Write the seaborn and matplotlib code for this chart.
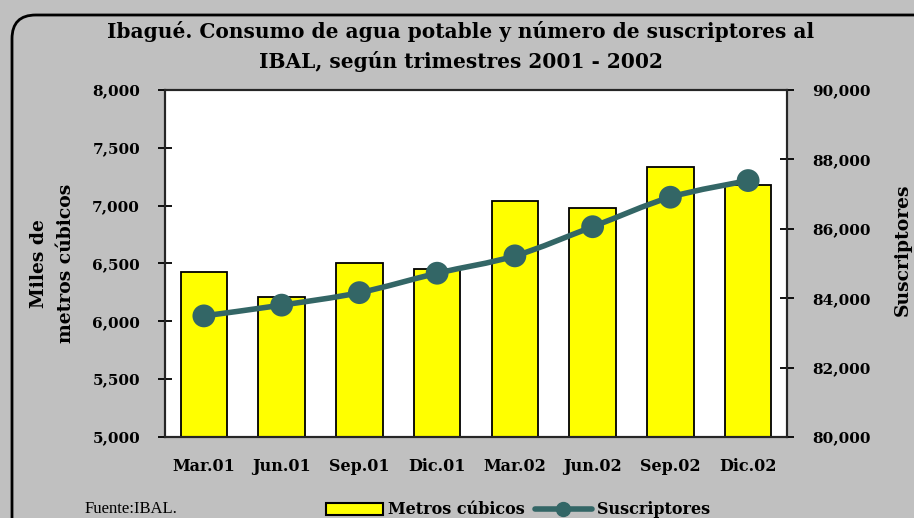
import matplotlib
matplotlib.use("Agg")
import matplotlib.pyplot as plt
import seaborn as sns
import pandas as pd
import numpy as np
from matplotlib.path import Path
from matplotlib.patches import PathPatch, FancyBboxPatch, Patch
from matplotlib.lines import Line2D

# Quarterly data
trimestres = ["Mar.01", "Jun.01", "Sep.01", "Dic.01", "Mar.02", "Jun.02", "Sep.02", "Dic.02"]
metros_cubicos = [6425, 6210, 6505, 6455, 7040, 6980, 7335, 7180]          # miles de m3
suscriptores = [83490, 83800, 84160, 84720, 85220, 86060, 86910, 87390]

left_ticks = [5000, 5500, 6000, 6500, 7000, 7500, 8000]
right_ticks = [80000, 82000, 84000, 86000, 88000, 90000]

BG = "#C0C0C0"
YELLOW = "#FFFF00"
TEAL = "#336666"
SERIF = "DejaVu Serif"

sns.set_style("white")
plt.rcParams["font.family"] = [SERIF]
plt.rcParams["text.color"] = "black"
plt.rcParams["axes.labelcolor"] = "black"
plt.rcParams["xtick.color"] = "black"
plt.rcParams["ytick.color"] = "black"

fig = plt.figure(figsize=(9.14, 5.18), dpi=100)
fig.patch.set_facecolor(BG)

# Rounded chart-area frame (runs past the right and bottom edges)
x0, ytop = 12 / 914, 1 - 15 / 518
frame = FancyBboxPatch((x0, -0.3), 1.3, ytop + 0.3,
                       boxstyle="round,pad=0,rounding_size=0.026",
                       transform=fig.transFigure, facecolor="none",
                       edgecolor="black", linewidth=2.0, zorder=0,
                       mutation_aspect=914 / 518)
fig.patches.append(frame)

ax = fig.add_axes([165 / 914, 1 - 437 / 518, (787 - 165) / 914, (437 - 90) / 518])
ax.set_facecolor("white")

df = pd.DataFrame({"trimestre": trimestres, "m3": metros_cubicos, "susc": suscriptores})

sns.barplot(data=df, x="trimestre", y="m3", color=YELLOW, saturation=1,
            edgecolor="black", linewidth=1.3, width=0.6, ax=ax, zorder=2)
ax.set_ylim(5000, 8000)
ax.set_xlim(-0.5, len(trimestres) - 0.5)
ax.set_yticks(left_ticks)
ax.set_yticklabels([f"{v:,}" for v in left_ticks], fontsize=11, fontweight="bold")
ax.set_xticks(np.arange(len(trimestres)))
ax.set_xticklabels(trimestres, fontsize=11.5, fontweight="bold")
ax.tick_params(axis="x", length=0, pad=15)
# category boundary ticks on the x axis
ax.set_xticks(np.arange(len(trimestres) + 1) - 0.5, minor=True)
ax.tick_params(axis="x", which="minor", direction="out", length=6, width=1.3)
ax.tick_params(axis="y", direction="inout", length=10, width=1.3, pad=13)
ax.set_xlabel("")
ax.set_ylabel("Miles de\nmetros cúbicos", fontsize=13.5, fontweight="bold", labelpad=12,
              linespacing=1.65)
for s in ax.spines.values():
    s.set_visible(True)
    s.set_color("black")
    s.set_linewidth(1.5)

ax2 = ax.twinx()
ax2.set_ylim(80000, 90000)
ax2.set_yticks(right_ticks)
ax2.set_yticklabels([f"{v:,}" for v in right_ticks], fontsize=11, fontweight="bold")
ax2.tick_params(axis="y", direction="inout", length=10, width=1.3, pad=13)
ax2.set_ylabel("")
for s in ax2.spines.values():
    s.set_linewidth(1.5)

# Smoothed subscriber line (Catmull-Rom through the quarterly points)
xs = np.arange(len(suscriptores), dtype=float)
ys = np.array(suscriptores, dtype=float)
pts = np.column_stack([xs, ys])
verts = [tuple(pts[0])]
codes = [Path.MOVETO]
n = len(pts)
for i in range(n - 1):
    p0 = pts[i - 1] if i > 0 else pts[i]
    p1 = pts[i]
    p2 = pts[i + 1]
    p3 = pts[i + 2] if i + 2 < n else pts[i + 1]
    c1 = p1 + (p2 - p0) / 6.0
    c2 = p2 - (p3 - p1) / 6.0
    verts += [tuple(c1), tuple(c2), tuple(p2)]
    codes += [Path.CURVE4] * 3
ax2.add_patch(PathPatch(Path(verts, codes), facecolor="none", edgecolor=TEAL,
                        linewidth=4, zorder=3, capstyle="round"))
sns.scatterplot(data=df, x=np.arange(len(trimestres)), y="susc", ax=ax2, color=TEAL,
                s=270, edgecolor="none", zorder=4, legend=False)
ax2.set_xlim(-0.5, len(trimestres) - 0.5)
ax2.set_xlabel("")
ax2.set_ylabel("")

# Right axis title, hugging the right edge
fig.text(903 / 914, 1 - 250 / 518, "Suscriptores", rotation=90, ha="center", va="center",
         fontsize=13.5, fontweight="bold")

# Title
fig.text(461 / 914, 1 - 31 / 518, "Ibagué. Consumo de agua potable y número de suscriptores al",
         ha="center", va="center", fontsize=14.5, fontweight="bold")
fig.text(461 / 914, 1 - 61 / 518, "IBAL, según trimestres 2001 - 2002",
         ha="center", va="center", fontsize=14.5, fontweight="bold")

# Source note
fig.text(85 / 914, 1 - 509 / 518, "Fuente:IBAL.", ha="left", va="center",
         fontsize=12, family="Liberation Serif")

# Legend
handles = [Patch(facecolor=YELLOW, edgecolor="black", linewidth=1.5),
           Line2D([0], [0], color=TEAL, lw=4, marker="o", markersize=10)]
fig.legend(handles, ["Metros cúbicos", "Suscriptores"], loc="center",
           bbox_to_anchor=(518 / 914, 1 - 510 / 518), ncol=2, frameon=False,
           prop={"family": SERIF, "weight": "bold", "size": 11.5},
           handlelength=3.6, handletextpad=0.3, columnspacing=0.6, handleheight=0.7)

fig.savefig("out.png", dpi=100, facecolor=BG)
